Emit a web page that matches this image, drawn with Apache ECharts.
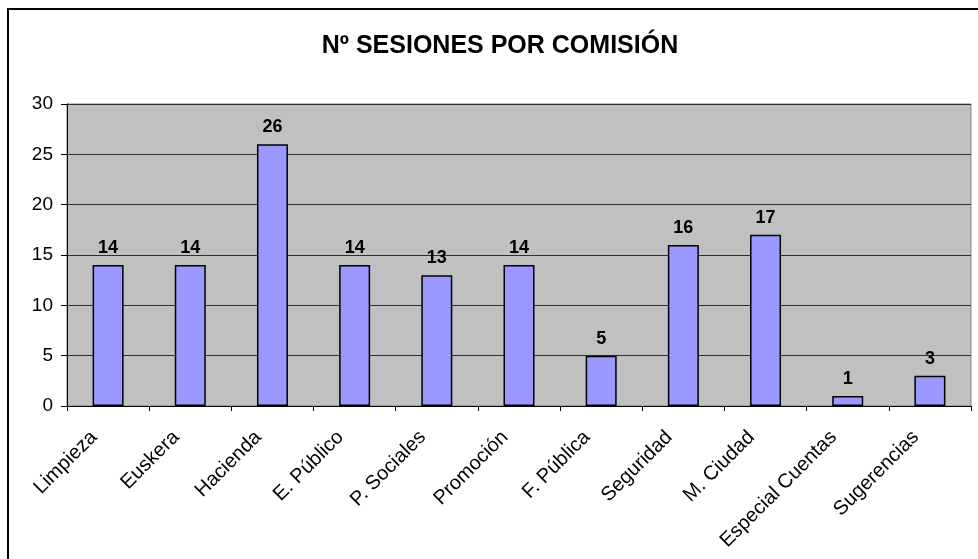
<!DOCTYPE html>
<html>
<head>
<meta charset="utf-8">
<script src="https://cdn.jsdelivr.net/npm/echarts@6/dist/echarts.min.js"></script>
<style>
  html, body { margin: 0; padding: 0; background: #fff; }
  #chart { width: 978px; height: 559px; }
</style>
</head>
<body>
<div id="chart"></div>
<script>
// data
const categories = ['Limpieza', 'Euskera', 'Hacienda', 'E. Público', 'P. Sociales', 'Promoción',
  'F. Pública', 'Seguridad', 'M. Ciudad', 'Especial Cuentas', 'Sugerencias']
const sesiones = [14, 14, 26, 14, 13, 14, 5, 16, 17, 1, 3]
const titleText = 'Nº SESIONES POR COMISIÓN'

const chart = echarts.init(document.getElementById('chart'))
chart.setOption({
  animation: false,
  textStyle: { fontFamily: 'Liberation Sans, Arial, sans-serif' },
  title: {
    text: titleText,
    left: 495,
    textAlign: 'center',
    top: 29,
    textStyle: { fontSize: 25, fontWeight: 'bold', color: '#000' }
  },
  graphic: [{
    type: 'rect',
    shape: { x: 8, y: 9, width: 1000, height: 600 },
    style: { fill: 'none', stroke: '#000', lineWidth: 2 },
    silent: true
  }],
  grid: {
    left: 67,
    right: 7,
    top: 104,
    bottom: 153,
    show: true,
    backgroundColor: '#c0c0c0',
    borderColor: '#808080',
    borderWidth: 1
  },
  xAxis: {
    type: 'category',
    data: categories,
    axisLine: { lineStyle: { color: '#000', width: 1 } },
    axisTick: { show: true, length: 5, lineStyle: { color: '#000' } },
    axisLabel: {
      interval: 0,
      rotate: 45,
      margin: 14,
      padding: [0, 20, 0, 0],
      fontSize: 20,
      color: '#000'
    }
  },
  yAxis: {
    type: 'value',
    min: 0,
    max: 30,
    interval: 5,
    axisLine: { show: true, lineStyle: { color: '#000', width: 1 } },
    axisTick: { show: true, length: 6, lineStyle: { color: '#000' } },
    axisLabel: { fontSize: 19, color: '#000', margin: 14 },
    splitLine: { lineStyle: { color: '#303030', width: 1 } }
  },
  series: [{
    type: 'bar',
    data: sesiones,
    barWidth: 31,
    itemStyle: {
      color: '#9999ff',
      borderColor: '#000',
      borderWidth: 1.5
    },
    label: {
      show: true,
      position: 'top',
      distance: 8,
      fontSize: 18,
      fontWeight: 'bold',
      color: '#000'
    }
  }]
})
</script>
</body>
</html>
